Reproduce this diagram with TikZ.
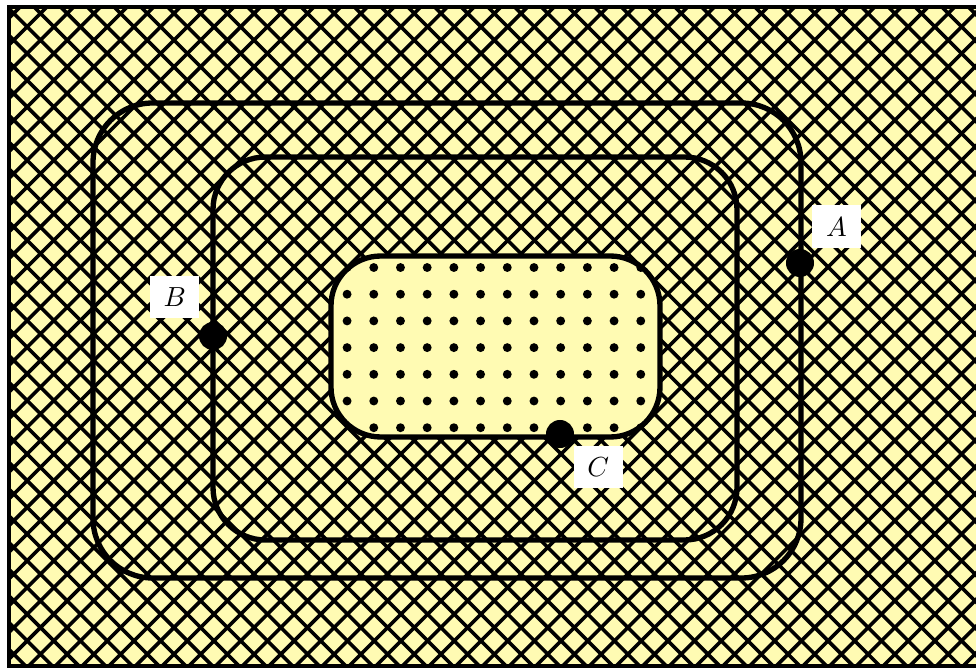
\documentclass[tikz,border=0pt]{standalone}
\usetikzlibrary{patterns,positioning}

\begin{document}
\begin{tikzpicture}[
x=0.11236pt, y=-0.11236pt,
node distance=0.4pt,
curve/.style={draw, semithick},
dotpt/.style={circle, fill=black, inner sep=0pt, minimum size=3.15pt},
lbl/.style={fill=white, inner sep=0pt, scale=0.31, minimum width=18pt, minimum height=15.5pt}
]
\useasboundingbox (0,0) rectangle (976,668);
% background region
\path[draw, line width=0.45pt, preaction={fill=yellow!30}, pattern=crosshatch] (9,7) rectangle (990,666);
% level curves
\draw[curve, rounded corners=6.7pt] (93,103) rectangle (801,578);
\draw[curve, rounded corners=5.9pt] (213,157) rectangle (737,540);
\path[curve, preaction={fill=yellow!30}, pattern=dots, rounded corners=5.6pt] (331,256) rectangle (660,437);

\node[dotpt] (ptA) at (800,263) {};
\node[dotpt] (ptB) at (213,336) {};
\node[dotpt] (ptC) at (560,434) {};

\node[lbl, above right=0.35pt and 0pt of ptA] (lA) {$A$};
\node[lbl, above left=0.65pt and 0.2pt of ptB] (lB) {$B$};
\node[lbl, below right=0pt and 0.2pt of ptC] (lC) {$C$};
\end{tikzpicture}
\end{document}
